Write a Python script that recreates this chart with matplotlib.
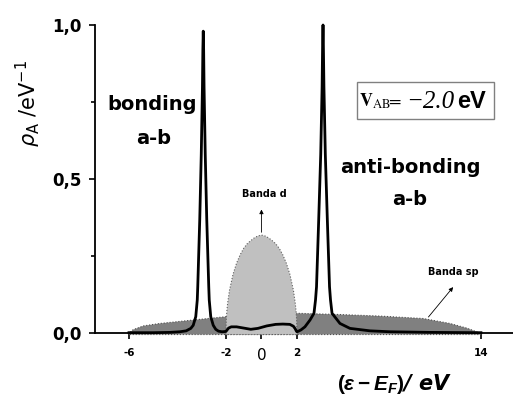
import numpy as np
import matplotlib.pyplot as plt
from matplotlib.patches import Rectangle
from matplotlib.ticker import NullLocator

plt.rcParams['mathtext.fontset'] = 'custom'
plt.rcParams['mathtext.rm'] = 'Liberation Sans:bold'
plt.rcParams['mathtext.it'] = 'Liberation Sans:italic:bold'
plt.rcParams['mathtext.bf'] = 'Liberation Sans:bold'

# adsorbate density of states (black curve)
energy = [-6.0, -5.0, -4.3, -3.9, -3.64, -3.45, -3.35, -3.245, -3.183, -3.163,
          -3.08, -3.018, -2.969, -2.952, -2.936, -2.920, -2.903, -2.854, -2.792,
          -2.709, -2.689, -2.627, -2.524, -2.421, -2.31, -2.165, -2.0,
          -1.95, -1.85, -1.7, -1.4, -1.0, -0.6, -0.2, 0.3, 0.8, 1.2, 1.6, 1.8,
          1.9, 1.97, 2.0,
          2.1, 2.26, 2.52, 2.85, 3.11, 3.21, 3.276, 3.42, 3.55, 3.641, 3.674,
          3.70, 3.722, 3.759, 3.85, 3.98, 4.124, 4.189, 4.287, 4.805, 5.457,
          6.76, 8.07, 10.68, 14.0]
rho = [0.001, 0.001, 0.002, 0.004, 0.007, 0.015, 0.025, 0.053, 0.107, 0.15,
       0.37, 0.58, 0.8, 0.92, 0.98, 0.92, 0.8, 0.58, 0.37,
       0.15, 0.107, 0.053, 0.025, 0.012, 0.006, 0.004, 0.005,
       0.009, 0.016, 0.02, 0.02, 0.016, 0.012, 0.015, 0.023, 0.028, 0.029, 0.028, 0.022,
       0.014, 0.006, 0.004,
       0.006, 0.01, 0.02, 0.042, 0.064, 0.107, 0.15, 0.37, 0.58, 0.8, 0.94,
       1.0, 0.94, 0.8, 0.58, 0.37, 0.15, 0.107, 0.064, 0.031, 0.015,
       0.007, 0.004, 0.002, 0.001]

# metal d band
d_energy = [-2.0, -1.98, -1.95, -1.9, -1.8, -1.6, -1.4, -1.2, -1.0, -0.8, -0.6,
            -0.4, -0.2, 0.0, 0.2, 0.4, 0.6, 0.8, 1.0, 1.2, 1.4, 1.6, 1.8, 1.9,
            1.95, 1.98, 2.0]
d_rho = [0.0, 0.045, 0.071, 0.099, 0.139, 0.191, 0.227, 0.254, 0.275, 0.290,
         0.300, 0.309, 0.315, 0.318, 0.315, 0.309, 0.300, 0.290, 0.275, 0.254,
         0.227, 0.191, 0.139, 0.099, 0.071, 0.045, 0.0]

# metal sp band
sp_energy = [-6.0, -5.82, -5.41, -4.72, -3.62, -2.25, -2.0, 0.0, 2.0, 4.8, 7.4,
             10.24, 11.98, 13.07, 13.72, 14.0]
sp_rho = [0.0, 0.011, 0.023, 0.031, 0.040, 0.051, 0.053, 0.06, 0.064, 0.06,
          0.055, 0.047, 0.031, 0.016, 0.004, 0.0]

xticks = [-6, -2, 0, 2, 14]
xtick_labels = ['-6', '-2', '0', '2', '14']
yticks = [0.0, 0.5, 1.0]
ytick_labels = ['0,0', '0,5', '1,0']

# the energy axis is drawn piecewise linear (schematic spacing)
SCALE_EV = [-60, -6, -2, 2, 14, 60]
SCALE_POS = [-1180.5, 129, 226, 297, 481, 1186.3]


def to_axis(e):
    return np.interp(e, SCALE_EV, SCALE_POS)


def from_axis(p):
    return np.interp(p, SCALE_POS, SCALE_EV)


fig = plt.figure(figsize=(5.13, 3.97), dpi=100)
ax = fig.add_axes([95 / 513, 64 / 397, 418 / 513, 308 / 397])
ax.set_xscale('function', functions=(to_axis, from_axis))
ax.set_xlim(-7.4, 16.09)
ax.set_ylim(0, 1.0)

ax.fill_between(sp_energy, sp_rho, -0.005, facecolor='#808080', edgecolor='#505050',
                linestyle=':', lw=0.8, zorder=3, clip_on=False)
ax.fill_between(d_energy, d_rho, -0.005, facecolor='#c0c0c0', edgecolor='#606060',
                linestyle=':', lw=0.8, zorder=4, clip_on=False)
ax.plot(energy, rho, color='k', lw=2.0, zorder=5, clip_on=False,
        solid_joinstyle='round')

# axes styling
for side in ['top', 'right']:
    ax.spines[side].set_visible(False)
ax.spines['left'].set_linewidth(1.3)
ax.spines['bottom'].set_linewidth(1.3)
ax.spines['bottom'].set_zorder(1)

ax.set_xticks(xticks, xtick_labels)
ax.xaxis.set_minor_locator(NullLocator())
ax.set_yticks(yticks, ytick_labels)
ax.set_yticks([0.25, 0.75], minor=True)
ax.tick_params(axis='both', which='major', direction='out', length=4.5, width=1.2)
ax.tick_params(axis='y', which='minor', direction='out', length=3, width=1.2)
ax.tick_params(axis='x', pad=6)
ax.tick_params(axis='y', pad=5)
for lab in ax.get_xticklabels():
    if lab.get_text() == '0':
        lab.set_fontsize(11)
    else:
        lab.set_fontsize(7.5)
        lab.set_fontweight('bold')
for lab in ax.get_yticklabels():
    lab.set_fontsize(12)
    lab.set_fontweight('bold')

ax.set_ylabel(r'$\rho_{\rm A}$ /eV$^{-1}$', fontsize=15, math_fontfamily='dejavusans')
ax.yaxis.set_label_coords(-0.124, 0.744)
ax.set_xlabel(r'$(\varepsilon - E_{F})$/ eV', fontsize=15, fontweight='bold',
              fontstyle='italic')
ax.xaxis.set_label_coords(0.718, -0.125)

# state labels
ax.text(-5.05, 0.743, 'bonding', ha='center', va='center', fontsize=14,
        fontweight='bold')
ax.text(-4.97, 0.63, 'a-b', ha='center', va='center', fontsize=14,
        fontweight='bold')
ax.text(9.37, 0.536, 'anti-bonding', ha='center', va='center', fontsize=14,
        fontweight='bold')
ax.text(9.37, 0.432, 'a-b', ha='center', va='center', fontsize=14,
        fontweight='bold')

# band labels with arrows
d_top = int(np.argmax(d_rho))
ax.annotate('', xy=(d_energy[d_top], 0.41), xytext=(d_energy[d_top], d_rho[d_top]),
            arrowprops=dict(arrowstyle='-|>', color='k', lw=0.6, mutation_scale=6),
            zorder=6)
ax.text(0.15, 0.451, 'Banda d', ha='center', va='center', fontsize=7,
        fontweight='bold')
sp_x = 10.46
ax.annotate('', xy=(12.3, 0.156), xytext=(sp_x, np.interp(sp_x, sp_energy, sp_rho)),
            arrowprops=dict(arrowstyle='-|>', color='k', lw=0.6, mutation_scale=6),
            zorder=6)
ax.text(12.18, 0.198, 'Banda sp', ha='center', va='center', fontsize=7,
        fontweight='bold')

# coupling box
ax.add_patch(Rectangle((0.627, 0.695), 0.328, 0.12, transform=ax.transAxes,
                       facecolor='white', edgecolor='#808080', lw=1.0, zorder=6))
ax.text(0.632, 0.751, r'$\mathbf{V}_{\mathrm{AB}}\!\!=$', transform=ax.transAxes,
        ha='left', va='center', fontsize=13, math_fontfamily='stix', zorder=7)
ax.text(0.745, 0.751, '\u22122.0', transform=ax.transAxes, ha='left', va='center',
        fontsize=18, fontstyle='italic', family='Liberation Serif', zorder=7)
ax.text(0.866, 0.751, 'eV', transform=ax.transAxes, ha='left', va='center',
        fontsize=17, fontweight='bold', family='Liberation Sans', zorder=7)

fig.savefig('out.png', dpi=100)
